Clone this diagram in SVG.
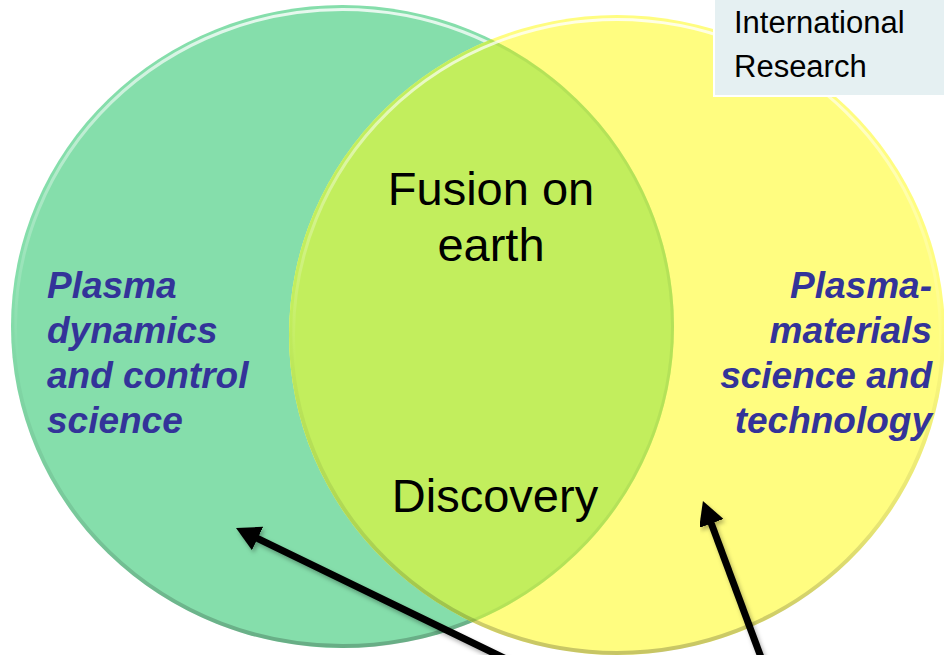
<svg xmlns="http://www.w3.org/2000/svg" width="944" height="655" viewBox="0 0 944 655">
  <style>
    .label { font-family: "Liberation Sans", Arial, sans-serif; fill: #000000; }
    .big { font-size: 47px; }
    .topic { font-size: 37px; font-weight: bold; font-style: italic; fill: #333399; }
    .boxtext { font-size: 31px; }
    .arrow { stroke: #000000; stroke-width: 7; fill: none; marker-end: url(#head); filter: url(#shadow); }
  </style>
  <defs>
    <linearGradient id="rimLight" x1="0" y1="0" x2="0" y2="1">
      <stop offset="0" stop-color="#FFFFFF" stop-opacity="0.8"/>
      <stop offset="0.3" stop-color="#FFFFFF" stop-opacity="0.3"/>
      <stop offset="0.55" stop-color="#FFFFFF" stop-opacity="0"/>
    </linearGradient>
    <linearGradient id="rimDark" x1="0" y1="0" x2="0" y2="1">
      <stop offset="0.45" stop-color="#000000" stop-opacity="0"/>
      <stop offset="0.8" stop-color="#000000" stop-opacity="0.1"/>
      <stop offset="1" stop-color="#000000" stop-opacity="0.22"/>
    </linearGradient>
    <clipPath id="clipGreen">
      <ellipse cx="342.5" cy="326.5" rx="331.5" ry="321.5"/>
    </clipPath>
    <clipPath id="clipYellow">
      <ellipse cx="617" cy="335" rx="328" ry="320"/>
    </clipPath>
    <marker id="head" viewBox="0 0 24 26" refX="2" refY="13" markerWidth="24" markerHeight="26" markerUnits="userSpaceOnUse" orient="auto">
      <path d="M0,0 L24,13 L0,26 z" fill="#000000"/>
    </marker>
    <filter id="shadow" x="-20%" y="-20%" width="140%" height="140%">
      <feDropShadow dx="2" dy="3" stdDeviation="2" flood-color="#000000" flood-opacity="0.3"/>
    </filter>
  </defs>

  <rect x="0" y="0" width="944" height="655" fill="#FFFFFF"/>

  <g id="circle-left">
    <ellipse cx="342.5" cy="326.5" rx="331.5" ry="321.5" fill="#85DEAB"/>
    <ellipse cx="342.5" cy="326.5" rx="329.5" ry="319.5" fill="none" stroke="url(#rimDark)" stroke-width="4"/>
    <ellipse cx="342.5" cy="326.5" rx="327" ry="317" fill="none" stroke="url(#rimLight)" stroke-width="3"/>
  </g>

  <g id="circle-right">
    <ellipse cx="617" cy="335" rx="328" ry="320" fill="#FFFD80"/>
  </g>

  <g id="overlap">
    <ellipse cx="617" cy="335" rx="328" ry="320" fill="#C2EE5D" clip-path="url(#clipGreen)"/>
    <g clip-path="url(#clipYellow)">
      <ellipse cx="342.5" cy="326.5" rx="330" ry="320" fill="none" stroke="#9FCF52" stroke-opacity="0.4" stroke-width="3"/>
    </g>
  </g>

  <g id="circle-right-rim">
    <ellipse cx="617" cy="335" rx="326" ry="318" fill="none" stroke="url(#rimDark)" stroke-width="4"/>
    <ellipse cx="617" cy="335" rx="323.5" ry="315.5" fill="none" stroke="url(#rimLight)" stroke-width="3"/>
  </g>

  <g id="box-international">
    <rect x="714" y="-2" width="232" height="98" fill="#E5F0F2" stroke="#FFFFFF" stroke-width="2"/>
    <text class="label boxtext" x="734" y="33">International</text>
    <text class="label boxtext" x="734" y="77">Research</text>
  </g>

  <g id="label-center">
    <text class="label big" x="491" y="205" text-anchor="middle">Fusion on</text>
    <text class="label big" x="491" y="261" text-anchor="middle">earth</text>
  </g>

  <g id="label-discovery">
    <text class="label big" x="495" y="512" text-anchor="middle">Discovery</text>
  </g>

  <g id="label-left">
    <text class="label topic" x="47" y="298">Plasma</text>
    <text class="label topic" x="47" y="343">dynamics</text>
    <text class="label topic" x="47" y="388">and control</text>
    <text class="label topic" x="47" y="433">science</text>
  </g>

  <g id="label-right">
    <text class="label topic" x="932" y="298" text-anchor="end">Plasma-</text>
    <text class="label topic" x="932" y="343" text-anchor="end">materials</text>
    <text class="label topic" x="932" y="388" text-anchor="end">science and</text>
    <text class="label topic" x="932" y="433" text-anchor="end">technology</text>
  </g>

  <g id="connectors">
    <line class="arrow" x1="508" y1="660" x2="255.8" y2="537.6"/>
    <line class="arrow" x1="762" y1="660" x2="710.6" y2="521.6"/>
  </g>
</svg>
